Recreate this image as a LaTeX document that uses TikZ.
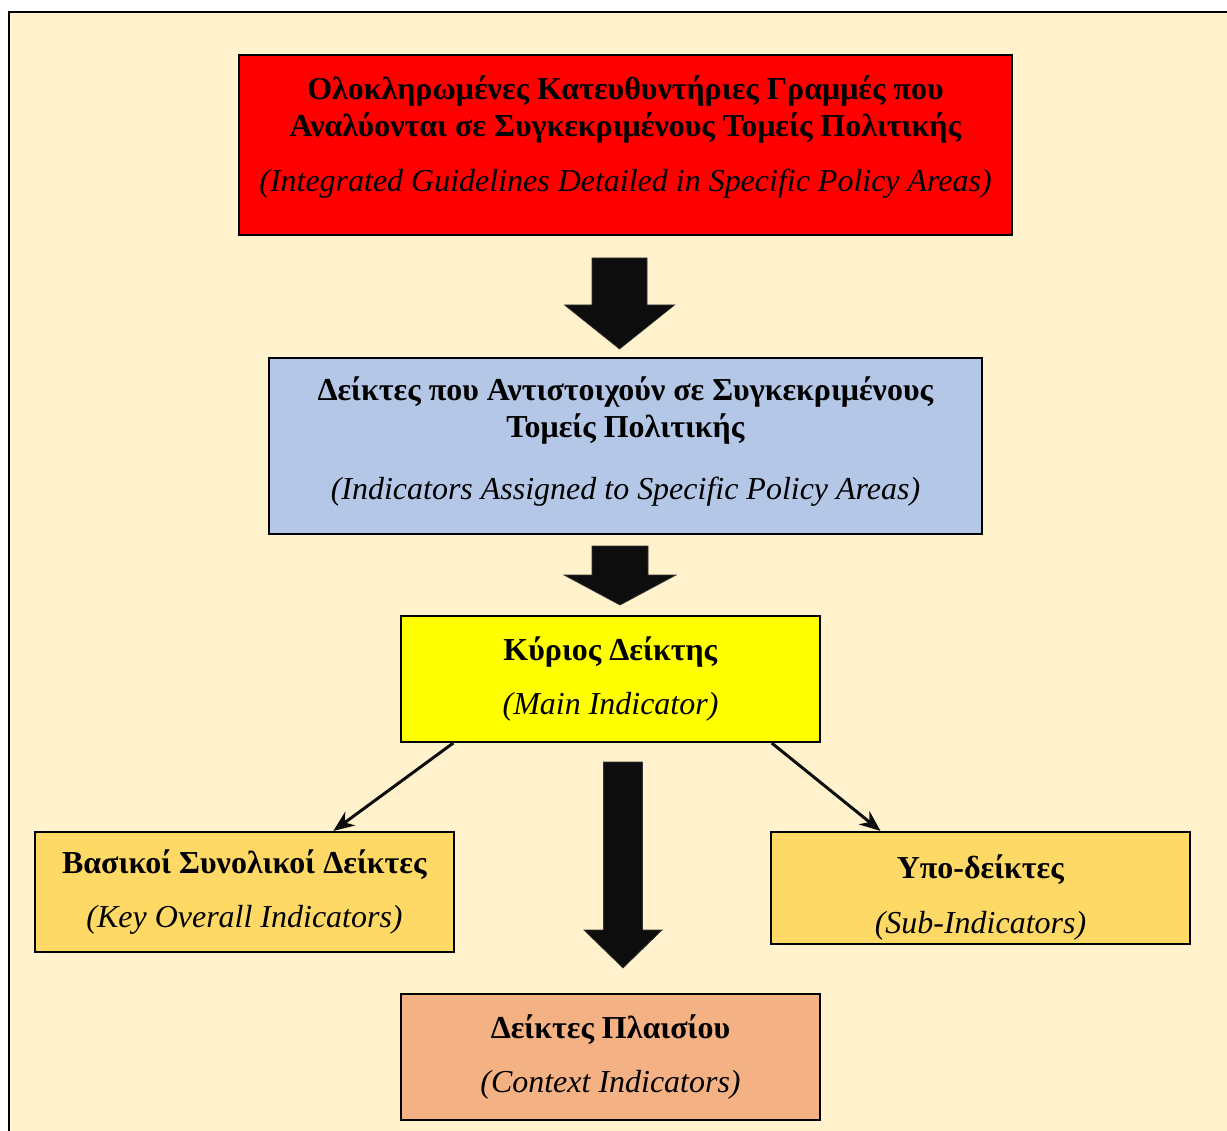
\documentclass[tikz,border=0pt]{standalone}
\usepackage{fontspec}
\setmainfont{Liberation Serif}[
  BoldFont={Liberation Serif Bold},
  ItalicFont={Liberation Serif Italic},
  BoldItalicFont={Liberation Serif Bold Italic}]
\usepackage{xcolor}
\usetikzlibrary{arrows.meta,positioning,calc}
\definecolor{pagecream}{HTML}{FFF2CC}
\definecolor{boxred}{HTML}{FF0000}
\definecolor{boxblue}{HTML}{B4C7E7}
\definecolor{boxyellow}{HTML}{FFFF00}
\definecolor{boxgold}{HTML}{FFD966}
\definecolor{boxpeach}{HTML}{F4B183}
\definecolor{arrowblack}{HTML}{0D0D0D}

% fat arrow: x, top y, neck y, tip y, half shaft, half head
\newcommand{\fatarrow}[6]{%
  \filldraw[fatarrow] (#1-#5,#2) -- (#1+#5,#2) -- (#1+#5,#3) -- (#1+#6,#3)
    -- (#1,#4) -- (#1-#6,#3) -- (#1-#5,#3) -- cycle;}

\begin{document}
\begin{tikzpicture}[
        x=0.02cm, y=-0.02cm,
        box/.style={
          draw,
          line width=1.2pt,
          align=center,
          inner sep=0pt,
          font=\fontsize{18.2}{21.2}\selectfont
        },
        fatarrow/.style={
          fill=arrowblack,
          draw=black!80,
          line width=0.4pt
        },
        arrow/.style={
          -{Stealth[length=4.2mm,width=3.4mm]},
          line width=1.7pt,
          arrowblack
        }
      ]

      \useasboundingbox (0,0) rectangle (1227,1131);
      \draw[line width=1.4pt, fill=pagecream] (9,12) rectangle (1245,1150);

      \node[box, fill=boxred, minimum width=15.46cm, minimum height=3.6cm] (guide) at (625.5,145) {
        \textbf{Ολοκληρωμένες Κατευθυντήριες Γραμμές που}\\
        \textbf{Αναλύονται σε Συγκεκριμένους Τομείς Πολιτικής}\\[10pt]
        \textit{(Integrated Guidelines Detailed in Specific Policy Areas)}\\[-8pt]
      };

      \node[box, fill=boxblue, minimum width=14.26cm, minimum height=3.52cm] (assigned) at (625.5,446) {
        \textbf{Δείκτες που Αντιστοιχούν σε Συγκεκριμένους}\\
        \textbf{Τομείς Πολιτικής}\\[14pt]
        \textit{(Indicators Assigned to Specific Policy Areas)}\\[-12pt]
      };

      \node[box, fill=boxyellow, minimum width=8.38cm, minimum height=2.52cm] (main) at (610.5,679) {
        \textbf{Κύριος Δείκτης}\\[10pt]
        \textit{(Main Indicator)}
      };

      \node[box, fill=boxgold, minimum width=8.38cm, minimum height=2.4cm] (keyall) at (244.5,892) {
        \textbf{Βασικοί Συνολικοί Δείκτες}\\[10pt]
        \textit{(Key Overall Indicators)}
      };

      \node[box, fill=boxgold, minimum width=8.38cm, minimum height=2.24cm] (sub) at (980.5,888) {
        \rule{0pt}{24pt}\textbf{Υπο-δείκτες}\\[10pt]
        \textit{(Sub-Indicators)}
      };

      \node[box, fill=boxpeach, minimum width=8.38cm, minimum height=2.52cm] (context) at (610.5,1057) {
        \textbf{Δείκτες Πλαισίου}\\[10pt]
        \textit{(Context Indicators)}
      };

      \fatarrow{619.5}{258}{305}{349}{27.5}{55}
      \fatarrow{620}{546}{575}{605}{28}{56}
      \fatarrow{623}{762}{930}{968}{19.5}{39}

      \draw[arrow] ($(main.south west)!0.1265!(main.south east)$) -- ($(keyall.north west)!0.711!(keyall.north east)$);
      \draw[arrow] ($(main.south west)!0.883!(main.south east)$) -- ($(sub.north west)!0.2625!(sub.north east)$);

\end{tikzpicture}
\end{document}
